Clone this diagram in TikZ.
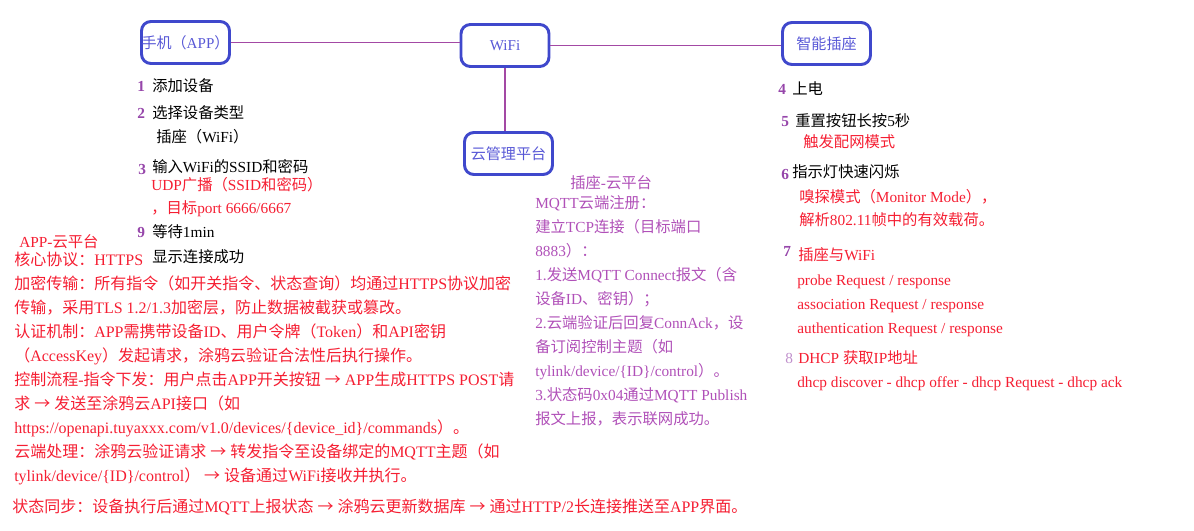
\documentclass[tikz,border=0pt]{standalone}
\usepackage{fontspec}
\setmainfont{Liberation Serif}
\newfontfamily\zhfont{Noto Sans CJK SC}
\usetikzlibrary{positioning}

\definecolor{boxblue}{RGB}{63,72,204}
\definecolor{boxtext}{RGB}{88,88,214}
\definecolor{linkpurple}{RGB}{163,73,164}
\definecolor{numpurple}{RGB}{150,70,170}
\definecolor{notepurple}{RGB}{176,80,184}
\definecolor{notered}{RGB}{245,30,50}

% Chinese characters go to the CJK font, the rest stays serif
\newXeTeXintercharclass\zhclass
\newcount\zhcode
\newcommand\zhrange[2]{\zhcode=#1\relax
  \loop\XeTeXcharclass\zhcode=\zhclass
  \ifnum\zhcode<#2\relax\advance\zhcode by 1\repeat}
\zhrange{"3000}{"303F}
\zhrange{"4E00}{"9FFF}
\zhrange{"FF00}{"FFEF}
\zhrange{"2192}{"2192}
\newcommand\latinfont{\rmfamily}
\XeTeXinterchartoks 0 \zhclass={\zhfont}
\XeTeXinterchartoks 4095 \zhclass={\zhfont}
\XeTeXinterchartoks \zhclass 0={\latinfont}
\XeTeXinterchartoks \zhclass 4095={\latinfont}
\XeTeXinterchartokenstate=1

\begin{document}
\begin{tikzpicture}[x=0.75pt,y=-0.75pt]
  \tikzstyle{roundbox}=[rectangle, draw=boxblue, line width=2.2pt, rounded corners=7pt,
                        minimum width=66pt, minimum height=31.5pt, inner sep=0pt,
                        text=boxtext, font=\fontsize{11.3pt}{13pt}\selectfont]
  \tikzstyle{textline}=[anchor=west, inner sep=0pt, text height=10pt, text depth=1.4pt,
                        font=\fontsize{11.5pt}{13pt}\selectfont]
  \tikzstyle{rednote}=[textline, text=notered]
  \tikzstyle{rednotewide}=[rednote, font=\fontsize{12pt}{14pt}\selectfont]
  \tikzstyle{purplenote}=[textline, text=notepurple]
  \tikzstyle{stepno}=[textline, text=numpurple, font=\fontsize{11.5pt}{13pt}\selectfont\bfseries]
  \tikzstyle{link}=[draw=linkpurple, line width=0.8pt]
  \useasboundingbox (0,0) rectangle (1194,531);

  % the four parties and their links
  \node[roundbox] (Phone) at (185.5,42.5) {手机（APP）};
  \node[roundbox] (WiFi) at (505,45.5) {WiFi};
  \node[roundbox] (Cloud) at (508.5,153.5) {云管理平台};
  \node[roundbox] (Plug) at (826.5,43.5) {智能插座};
  \draw[link] (Phone) -- (WiFi.west |- Phone);
  \draw[link] (WiFi) -- (Plug.west |- WiFi);
  \draw[link] (WiFi) -- (WiFi |- Cloud.north);

  % steps on the phone side
  \node[stepno] (No1) at (137,86) {1};
  \node[textline] (AddDevice) at (152,86) {添加设备};
  \node[stepno] (No2) at (137,113) {2};
  \node[textline] (ChooseType) at (152,113) {选择设备类型};
  \node[textline] (TypeWiFi) at (156,137) {插座（WiFi）};
  \node[stepno] (No3) at (138,169) {3};
  \node[textline] (InputSSID) at (152,167) {输入WiFi的SSID和密码};
  \node[rednote] (UdpCast) at (151,185) {UDP广播（SSID和密码）};
  \node[rednote] (UdpPort) at (151,208) {，目标port 6666/6667};
  \node[stepno] (No9) at (137,232) {9};
  \node[textline] (WaitMin) at (152,232) {等待1min};
  \node[textline] (ShowDone) at (152,257) {显示连接成功};

  % APP to cloud
  \node[rednote] (AppCloud) at (19,242) {APP-云平台};
  \foreach \rowtext [count=\i] in {
      {核心协议：HTTPS},
      {加密传输：所有指令（如开关指令、状态查询）均通过HTTPS协议加密},
      {传输，采用TLS 1.2/1.3加密层，防止数据被截获或篡改。},
      {认证机制：APP需携带设备ID、用户令牌（Token）和API密钥},
      {（AccessKey）发起请求，涂鸦云验证合法性后执行操作。},
      {控制流程-指令下发：用户点击APP开关按钮 → APP生成HTTPS POST请},
      {求 → 发送至涂鸦云API接口（如},
      {https://openapi.tuyaxxx.com/v1.0/devices/\{device\_id\}/commands）。},
      {云端处理：涂鸦云验证请求 → 转发指令至设备绑定的MQTT主题（如},
      {tylink/device/\{ID\}/control） → 设备通过WiFi接收并执行。}}
    \node[rednotewide] (AppCloud\i) at (14,236+24*\i) {\rowtext};
  \node[rednotewide] (StateSync) at (12,507) {状态同步：设备执行后通过MQTT上报状态 → 涂鸦云更新数据库 → 通过HTTP/2长连接推送至APP界面。};

  % plug to cloud
  \node[purplenote] (PlugCloud) at (570,183) {插座-云平台};
  \foreach \rowtext [count=\i] in {
      {MQTT云端注册：},
      {建立TCP连接（目标端口},
      {8883）：},
      {1.发送MQTT Connect报文（含},
      {设备ID、密钥）；},
      {2.云端验证后回复ConnAck，设},
      {备订阅控制主题（如},
      {tylink/device/\{ID\}/control）。},
      {3.状态码0x04通过MQTT Publish},
      {报文上报，表示联网成功。}}
    \node[purplenote] (PlugCloud\i) at (535,179+24*\i) {\rowtext};

  % steps on the plug side
  \node[stepno] (No4) at (778,89) {4};
  \node[textline] (PowerOn) at (792,89) {上电};
  \node[stepno] (No5) at (781,121) {5};
  \node[textline] (Reset) at (795,121) {重置按钮长按5秒};
  \node[rednote] (PairMode) at (803,142) {触发配网模式};
  \node[stepno] (No6) at (781,174) {6};
  \node[textline] (Blink) at (792,172) {指示灯快速闪烁};
  \node[rednote] (Sniff) at (799,197) {嗅探模式（Monitor Mode），};
  \node[rednote] (Parse) at (799,220) {解析802.11帧中的有效载荷。};
  \node[stepno] (No7) at (783,251) {7};
  \node[rednote] (PlugWiFi) at (798,255) {插座与WiFi};
  \foreach \rowtext [count=\i] in {
      {probe Request / response},
      {association Request / response},
      {authentication Request / response}}
    \node[rednote] (PlugWiFi\i) at (797,256+24*\i) {\rowtext};
  \node[stepno, font=\fontsize{11.5pt}{13pt}\selectfont, text=numpurple!60] (No8) at (785,358) {8};
  \node[rednote] (Dhcp) at (798,358) {DHCP 获取IP地址};
  \node[rednote] (DhcpSteps) at (797,382) {dhcp discover - dhcp offer - dhcp Request - dhcp ack};
\end{tikzpicture}
\end{document}
